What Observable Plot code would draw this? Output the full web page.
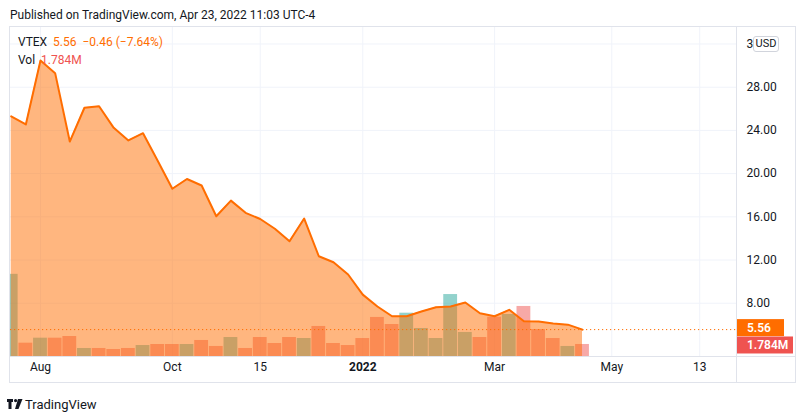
<!DOCTYPE html>
<html><head><meta charset="utf-8">
<script src="https://cdn.jsdelivr.net/npm/d3@7"></script>
<script src="https://cdn.jsdelivr.net/npm/@observablehq/plot@0.6"></script>
<style>
body{margin:0;background:#fff;font-family:Roboto,"Liberation Sans",sans-serif;color:#131722;}
#wrap{position:relative;width:806px;height:419px;overflow:hidden;background:#fff;}
#chart{position:absolute;left:0;top:26px;width:806px;height:360px;}
#chart svg{position:absolute;left:0;top:0;}
.ln{position:absolute;background:#e0e3eb;}
.txt{position:absolute;font-size:12px;white-space:pre;line-height:14px;}
</style></head><body>
<div id="wrap">
  <div class="txt" style="left:10px;top:8px;color:#131722;">Published on TradingView.com, Apr 23, 2022 11:03 UTC-4</div>
  <div id="chart"></div>
  <div class="ln" style="left:9px;top:26px;width:787px;height:1px;"></div>
  <div class="ln" style="left:9px;top:26px;width:1px;height:357px;"></div>
  <div class="ln" style="left:795px;top:26px;width:1px;height:357px;"></div>
  <div class="ln" style="left:9px;top:382px;width:787px;height:1px;"></div>
  <div class="ln" style="left:736px;top:26px;width:1px;height:357px;"></div>
  <div class="ln" style="left:9px;top:356px;width:787px;height:1px;"></div>
  <div id="legend1" class="txt" style="left:18px;top:35px;"></div>
  <div id="legend2" class="txt" style="left:18px;top:53px;"></div>
  <div style="position:absolute;left:753px;top:36px;width:26px;height:16px;box-sizing:border-box;border:1px solid #d1d4dc;border-radius:3px;background:#fff;font-size:11px;line-height:14px;text-align:center;color:#131722;">USD</div>
  <svg style="position:absolute;left:7px;top:398px;" width="16" height="12" viewBox="0 0 16 12">
    <path d="M0 1h6v3H4.5v7H1.5V4H0z" fill="#131722"/>
    <circle cx="8.6" cy="2.6" r="1.6" fill="#131722"/>
    <path d="M11 1h4.5l-4 10H8z" fill="#131722"/>
  </svg>
  <div class="txt" style="left:25px;top:397px;font-size:13px;line-height:16px;color:#131722;">TradingView</div>
</div>
<script>
// ---- data (weekly bars, VTEX) ----
const weekStart = "2021-07-19";
const closes = [25.3, 24.55, 30.47, 29.3, 22.97, 26.1, 26.24, 24.24, 23.07, 23.74,
  21.2, 18.6, 19.5, 18.9, 16.05, 17.5, 16.37, 15.8, 14.9, 13.74,
  15.84, 12.35, 11.8, 10.66, 8.8, 7.7, 6.8, 6.8, 7.23, 7.63,
  7.7, 8.07, 7.07, 6.8, 7.39, 6.33, 6.3, 6.12, 6.02, 5.56];
const volumes = [12.2, 1.98, 2.72, 2.72, 2.97, 1.19, 1.19, 1.04, 1.19, 1.63,
  1.78, 1.78, 1.78, 2.38, 1.49, 2.82, 1.19, 2.82, 1.93, 2.82,
  2.67, 4.46, 1.93, 1.63, 2.67, 5.8, 4.75, 6.43, 4.16, 2.67,
  9.2, 3.57, 2.82, 5.84, 6.24, 7.43, 4.0, 2.67, 1.49, 1.784];
const volDir = ["up","down","up","down","down","up","down","down","down","up",
  "down","down","up","down","down","up","down","down","down","down",
  "up","down","down","down","down","down","down","up","up","up",
  "up","up","down","down","up","down","down","down","up","down"];
const priceTicks = [8, 12, 16, 20, 24, 28, 32];
const timeTickDates = ["2021-08-02","2021-10-04","2021-11-15","2022-01-03","2022-03-07","2022-05-02","2022-06-13"];
const timeTickLabels = ["Aug","Oct","15","2022","Mar","May","13"];
const symbol = "VTEX";
const lastClose = 5.56;
const lastChange = "−0.46";
const lastPct = "(−7.64%)";
const lastVolume = 1.784;
const lastVolumeLabel = "1.784M";

// ---- build ----
const DAY = 864e5;
const t0 = new Date(weekStart + "T00:00:00Z");
const data = closes.map((c, i) => ({date: new Date(+t0 + i * 7 * DAY), close: c, volume: volumes[i], dir: volDir[i]}));
const ticks = timeTickDates.map((d, i) => ({date: new Date(d + "T00:00:00Z"), label: timeTickLabels[i]}));

const ORANGE = "#ff6d00", RED = "#ef5350", TEAL = "#26a69a", GRID = "#f0f3fa", TEXT = "#131722";
const W = 806, H = 360;
const xDomain = [new Date("2021-07-18T16:00:00Z"), new Date("2022-06-30T14:00:00Z")];
const base = {
  width: W, height: H, marginLeft: 10, marginRight: 70, marginTop: 0, marginBottom: 30,
  style: {background: "transparent", fontFamily: "Roboto, 'Liberation Sans', sans-serif", fontSize: "12px", overflow: "visible"}
};
const priceY = {domain: [3.07, 33.62], axis: null, clamp: true};
const volY = {domain: [0, 49], axis: null, clamp: true};
const xOpt = {type: "utc", domain: xDomain, axis: null, clamp: true};

// layer 1: grid
const gridPlot = Plot.plot({...base, x: xOpt, y: priceY, marks: [
  Plot.ruleY(priceTicks, {y: d => d, stroke: GRID, strokeWidth: 1}),
  Plot.ruleX(ticks, {x: "date", stroke: GRID, strokeWidth: 1})
]});

// layer 2: volume
const half = 3.3 * DAY;
const volPlot = Plot.plot({...base, x: xOpt, y: volY, marks: [
  Plot.rectY(data.filter(d => d.dir === "up"), {x1: d => new Date(+d.date - half), x2: d => new Date(+d.date + half), y1: 0, y2: "volume", fill: TEAL, fillOpacity: 0.5}),
  Plot.rectY(data.filter(d => d.dir === "down"), {x1: d => new Date(+d.date - half), x2: d => new Date(+d.date + half), y1: 0, y2: "volume", fill: RED, fillOpacity: 0.5})
]});

// layer 3: price area, line, labels
const fmt = d3.format(".2f");
const pricePlot = Plot.plot({...base, x: xOpt, y: priceY, marks: [
  Plot.areaY(data, {x: "date", y1: 0, y2: "close", fill: ORANGE, fillOpacity: 0.5}),
  Plot.line(data, {x: "date", y: "close", stroke: ORANGE, strokeWidth: 2}),
  Plot.ruleY([lastClose], {y: d => d, stroke: ORANGE, strokeWidth: 1, strokeDasharray: "1.2 2.8"}),
  Plot.text(priceTicks, {y: d => d, text: d => fmt(d), frameAnchor: "right", dx: 10, textAnchor: "start", fill: TEXT, fontSize: 12}),
  Plot.text(ticks.filter(t => t.label !== "2022"), {x: "date", text: "label", frameAnchor: "bottom", dy: 14, fill: TEXT, fontSize: 12}),
  Plot.text(ticks.filter(t => t.label === "2022"), {x: "date", text: "label", frameAnchor: "bottom", dy: 14, fill: TEXT, fontSize: 12, fontWeight: "bold"})
]});

const chart = document.getElementById("chart");
chart.appendChild(gridPlot);
chart.appendChild(volPlot);
chart.appendChild(pricePlot);

// last-value badges on the price axis, placed with the plots' own scales
function scaleOf(plot, name, opts) {
  try { const s = plot.scale(name); if (s && s.apply) return v => s.apply(v); } catch (e) {}
  return d3.scaleLinear().domain(opts.domain).range([H - base.marginBottom, base.marginTop]);
}
const yP = scaleOf(pricePlot, "y", priceY);
const yV = scaleOf(volPlot, "y", volY);
const svg = d3.select(pricePlot);
function badge(yc, h, w, color, label) {
  const x0 = W - base.marginRight;
  const g = svg.append("g").attr("text-anchor", "start");
  g.append("rect").attr("x", x0).attr("y", yc - h / 2).attr("width", w).attr("height", h).attr("fill", color);
  g.append("text").attr("x", x0 + 11).attr("y", yc).attr("dy", "0.35em").attr("fill", "#fff")
    .attr("text-anchor", "start").style("text-anchor", "start")
    .attr("font-size", 12).attr("font-weight", 600).text(label);
}
badge(yV(lastVolume) + 1, 17, 57, RED, lastVolumeLabel);
badge(yP(lastClose) - 1.5, 17, 48, ORANGE, fmt(lastClose));

// legend
document.getElementById("legend1").innerHTML =
  `<span style="color:${TEXT}">${symbol}</span>  <span style="color:${ORANGE}">${fmt(lastClose)}  ${lastChange} ${lastPct}</span>`;
document.getElementById("legend2").innerHTML =
  `<span style="color:${TEXT}">Vol</span>  <span style="color:${RED}">${lastVolumeLabel}</span>`;
</script>
</body></html>
